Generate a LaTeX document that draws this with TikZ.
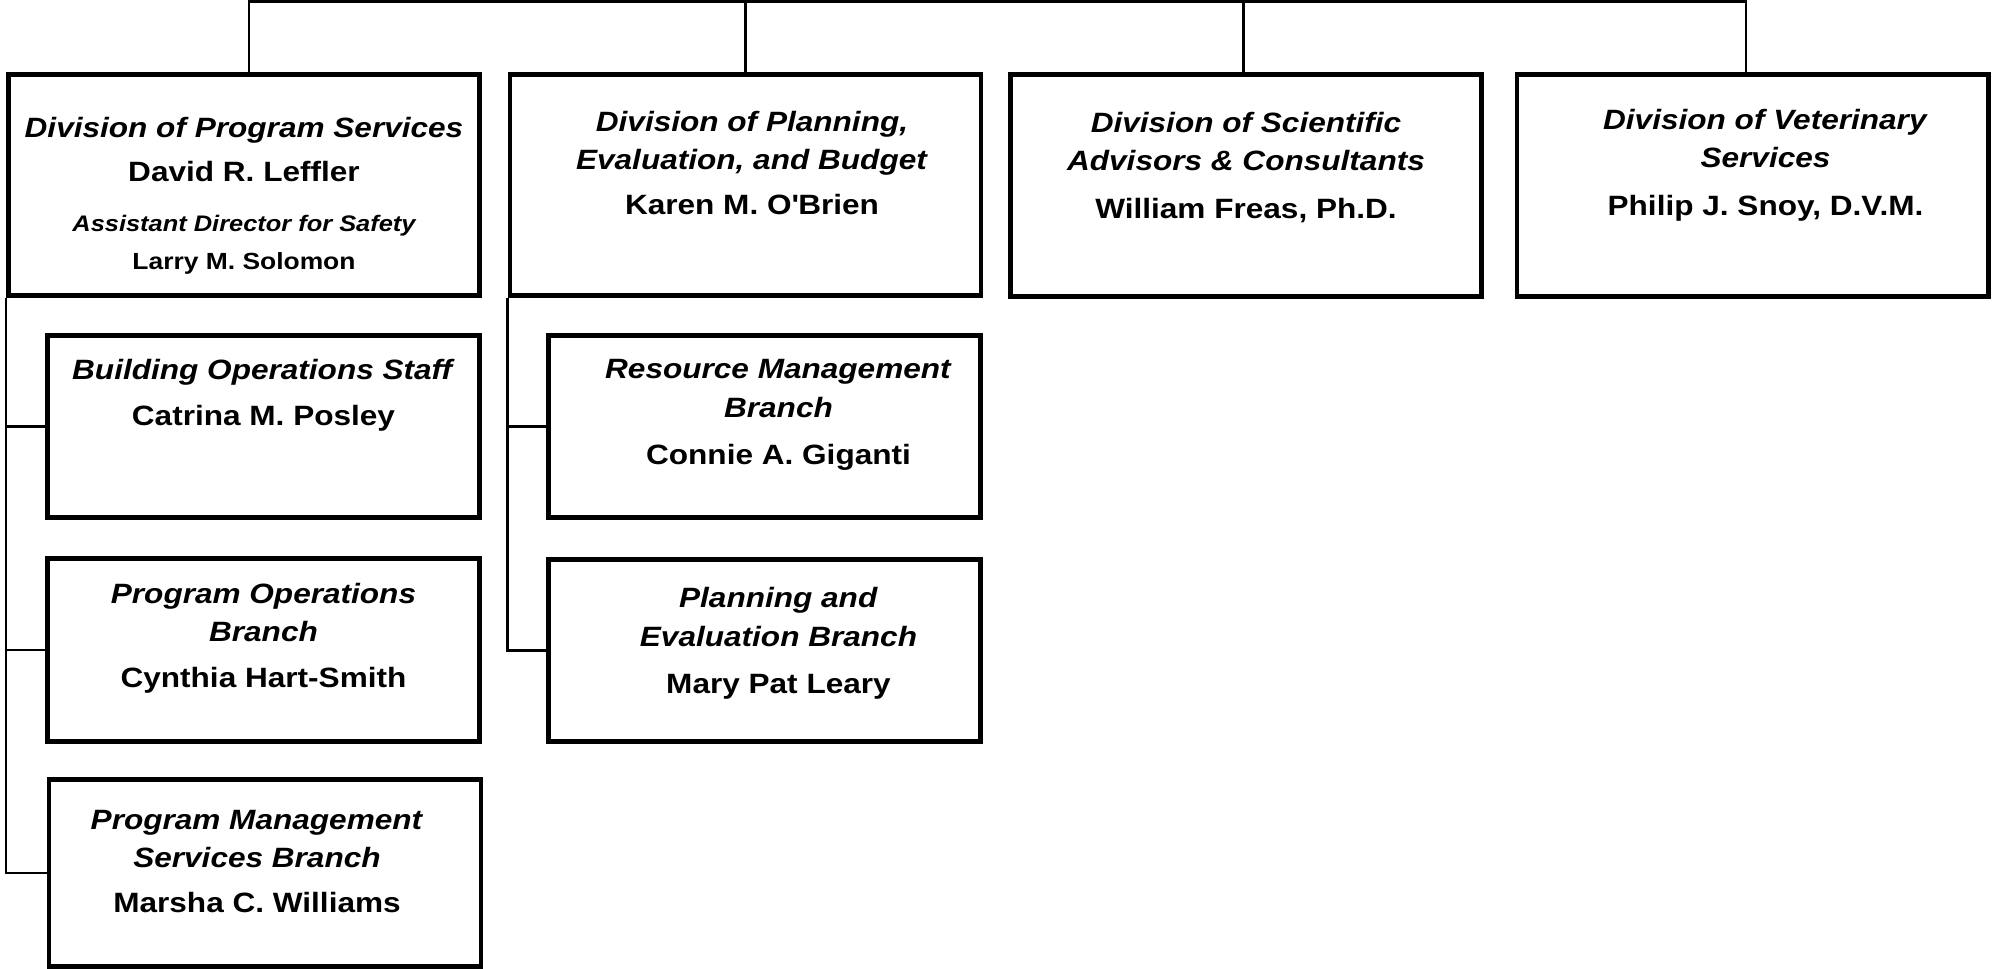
\documentclass[tikz,border=0pt]{standalone}
\usepackage{fontspec}
\setmainfont{Liberation Sans}[FakeStretch=1.13]
\usetikzlibrary{positioning}

\begin{document}
\begin{tikzpicture}[x=0.02cm,y=-0.02cm,line width=1.3pt,
  div/.style={draw,line width=2.6pt,minimum width=9.43cm,minimum height=4.43cm,inner sep=0pt},
  br/.style={draw,line width=2.6pt,minimum width=8.65cm,minimum height=3.65cm,inner sep=0pt},
  txt/.style={align=center,inner sep=0pt,font=\fontsize{15.9}{21.5}\selectfont\bfseries}]
\useasboundingbox (0,0) rectangle (1995,969);
% divisions
\node[div] (b1) at (244,185) {};
\node[div] (b2) at (745.5,185) {};
\node[div] (b3) at (1246,185.5) {};
\node[div] (b4) at (1752.5,185.5) {};
% branches
\node[br] (c11) at (263.5,426.5) {};
\node[br] (c12) at (263.5,650) {};
\node[br,minimum height=3.75cm] (c13) at (265,873) {};
\node[br] (c21) at (764.5,426.5) {};
\node[br] (c22) at (764.5,650.5) {};
% texts
\node[txt,below=0.88cm of b1.north] (t1) {\textit{Division of Program Services}\\[3.8pt]
  David R. Leffler\\[6.8pt]
  {\fontsize{12.8}{16}\selectfont\itshape Assistant Director for Safety}\\
  {\fontsize{13.3}{16}\selectfont Larry M. Solomon}};
\node[txt,below=0.76cm of b2.north,xshift=0.13cm] (t2) {\textit{Division of Planning,}\\\textit{Evaluation, and Budget}\\[4.5pt] Karen M. O\textquotesingle Brien};
\node[txt,below=0.78cm of b3.north] (t3) {\textit{Division of Scientific}\\\textit{Advisors \& Consultants}\\[5.5pt] William Freas, Ph.D.};
\node[txt,below=0.72cm of b4.north,xshift=0.26cm] (t4) {\textit{Division of Veterinary}\\\textit{Services}\\[5.5pt] Philip J. Snoy, D.V.M.};
\node[txt,below=0.5cm of c11.north] (t11) {\textit{Building Operations Staff}\\[4.5pt] Catrina M. Posley};
\node[txt,below=0.52cm of c12.north] (t12) {\textit{Program Operations}\\\textit{Branch}\\[4.5pt] Cynthia Hart-Smith};
\node[txt,below=0.64cm of c13.north,xshift=-0.16cm] (t13) {\textit{Program Management}\\\textit{Services Branch}\\[4.5pt] Marsha C. Williams};
\node[txt,below=0.5cm of c21.north,xshift=0.28cm] (t21) {\textit{Resource Management}\\[1pt]\textit{Branch}\\[5pt] Connie A. Giganti};
\node[txt,below=0.58cm of c22.north,xshift=0.28cm] (t22) {\textit{Planning and}\\[1pt]\textit{Evaluation Branch}\\[5pt] Mary Pat Leary};
% lines
\coordinate (bus) at (0,1.5);
\draw ([xshift=0.1cm]b1.north) -- ([xshift=0.1cm]b1.north |- bus) -- ([xshift=-0.13cm]b4.north |- bus) -- ([xshift=-0.13cm]b4.north);
\draw (b2.north) -- (b2.north |- bus);
\draw ([xshift=-0.05cm]b3.north) -- ([xshift=-0.05cm]b3.north |- bus);
\draw (b1.south west) |- (c13.west);
\draw (c11.west) -- (c11.west -| b1.south west);
\draw (c12.west) -- (c12.west -| b1.south west);
\draw (b2.south west) |- (c22.west);
\draw (c21.west) -- (c21.west -| b2.south west);
\end{tikzpicture}
\end{document}
